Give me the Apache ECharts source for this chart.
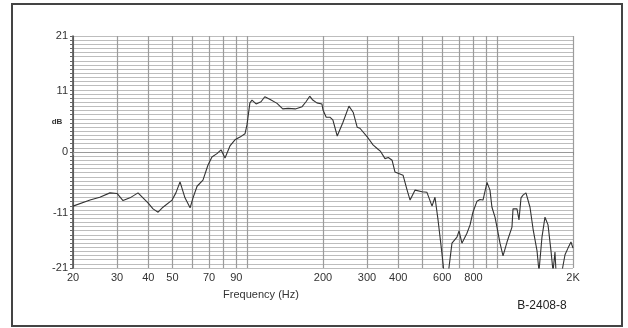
<!DOCTYPE html>
<html>
<head>
<meta charset="utf-8">
<script src="https://cdn.jsdelivr.net/npm/echarts@6/dist/echarts.min.js"></script>
<style>
html,body{margin:0;padding:0;background:#fff;}
#c{width:628px;height:328px;}
</style>
</head>
<body>
<div id="c"></div>
<script>
// Frequency (Hz)
const freqs = [20, 23.4, 25.6, 28.1, 30, 31.7, 33.8, 36.4, 39.9, 41.8, 43.8, 45.8, 49.8, 51.6, 53.6, 56.1, 58.8, 60.4, 62.7, 66.2, 69.3, 71.9, 75.3, 78.2, 81.1, 84.9, 88.9, 93.1, 97.5, 99.3, 102, 104, 108, 110, 113, 117, 123, 131, 138, 145, 155, 165, 171, 177, 182, 189, 198, 200, 206, 213, 219, 228, 240, 254, 264, 274, 281, 300, 317, 332, 340, 354, 365, 378, 388, 418, 434, 446, 467, 498, 521, 546, 561, 577, 598, 612, 632, 656, 687, 700, 719, 753, 775, 796, 826, 849, 873, 906, 931, 948, 975, 993, 1021, 1050, 1089, 1140, 1151, 1194, 1216, 1239, 1262, 1297, 1346, 1384, 1436, 1462, 1503, 1545, 1589, 1633, 1664, 1694, 1710, 1760, 1807, 1858, 1910, 1963, 2000];
// Level (dB)
const levels = [-9.8, -8.7, -8.2, -7.4, -7.5, -8.8, -8.3, -7.4, -9.2, -10.3, -10.9, -10.0, -8.7, -7.4, -5.4, -8.3, -10.1, -8.3, -6.2, -5.1, -2.4, -0.9, -0.3, 0.4, -1.1, 1.1, 2.2, 2.7, 3.3, 4.9, 8.9, 9.4, 8.7, 8.5, 9.1, 10.0, 9.5, 8.8, 7.8, 7.9, 7.8, 8.2, 9.1, 10.1, 9.4, 8.9, 8.7, 7.6, 6.3, 6.3, 5.8, 2.9, 5.3, 8.3, 7.2, 4.5, 4.3, 2.8, 1.3, 0.5, 0.1, -1.2, -1.0, -1.5, -3.6, -4.2, -6.9, -8.7, -6.9, -7.2, -7.3, -9.8, -8.2, -12.3, -18.3, -22.5, -22.5, -16.5, -15.4, -14.3, -16.5, -14.7, -13.2, -10.9, -8.9, -8.6, -8.7, -5.5, -6.9, -10.0, -11.8, -13.6, -16.5, -18.8, -16.3, -13.6, -10.3, -10.3, -12.3, -8.3, -7.8, -7.4, -10.0, -13.9, -17.9, -21.6, -15.4, -11.8, -13.2, -17.9, -21.6, -18.1, -21.6, -22.5, -21.6, -18.6, -17.4, -16.3, -17.4];
const gridFreqs = [20, 30, 40, 50, 60, 70, 80, 90, 100, 200, 300, 400, 500, 600, 700, 800, 900, 1000, 2000];
const xLabelFreqs = [20, 30, 40, 50, 70, 90, 200, 300, 400, 600, 800, 2000];
const yLabels = [-21, -11, 0, 11, 21];

const chart = echarts.init(document.getElementById('c'), null, {renderer: 'canvas'});
const pts = freqs.map((f, i) => [f, levels[i]]);
chart.setOption({
  animation: false,
  backgroundColor: '#fff',
  grid: {left: 73, right: 55, top: 36, bottom: 60, containLabel: false},
  xAxis: {
    type: 'log', logBase: 10, min: 20, max: 2000,
    axisLine: {show: true, lineStyle: {color: '#999', width: 1}},
    axisTick: {show: true, customValues: gridFreqs, length: 3, inside: false, lineStyle: {color: '#888', width: 1}},
    axisLabel: {customValues: xLabelFreqs, color: '#333', fontFamily: 'Liberation Sans, Arial, sans-serif', fontSize: 11, margin: 4,
      formatter: v => (v >= 1000 ? (v / 1000) + 'K' : String(v))},
    splitLine: {show: true, lineStyle: {color: '#9c9c9c', width: 1.2}},
    minorTick: {show: false}, minorSplitLine: {show: false}
  },
  yAxis: {
    type: 'value', min: -21, max: 21, interval: 0.75,
    axisLine: {show: true, lineStyle: {color: '#444', width: 1.5}},
    axisTick: {show: true, length: 3, inside: false, lineStyle: {color: '#666'}},
    axisLabel: {customValues: yLabels, color: '#333', fontFamily: 'Liberation Sans, Arial, sans-serif', fontSize: 11, margin: 5},
    splitLine: {show: true, lineStyle: {color: '#bdbdbd', width: 1}}
  },
  graphic: [
    {type: 'rect', shape: {x: 12, y: 4, width: 610, height: 322}, style: {fill: 'none', stroke: '#444', lineWidth: 2}, silent: true},
    {type: 'text', x: 57, y: 122, style: {text: 'dB', font: 'bold 8px Liberation Sans, Arial, sans-serif', fill: '#333', textAlign: 'center', textVerticalAlign: 'middle'}},
    {type: 'text', x: 261, y: 295, style: {text: 'Frequency (Hz)', font: '11px Liberation Sans, Arial, sans-serif', fill: '#333', textAlign: 'center', textVerticalAlign: 'middle'}},
    {type: 'text', x: 542, y: 306, style: {text: 'B-2408-8', font: '12px Liberation Sans, Arial, sans-serif', fill: '#222', textAlign: 'center', textVerticalAlign: 'middle'}}
  ],
  series: [{
    type: 'line', data: pts, symbol: 'none', clip: true,
    lineStyle: {color: '#333', width: 1.1}
  }]
});
</script>
</body>
</html>
